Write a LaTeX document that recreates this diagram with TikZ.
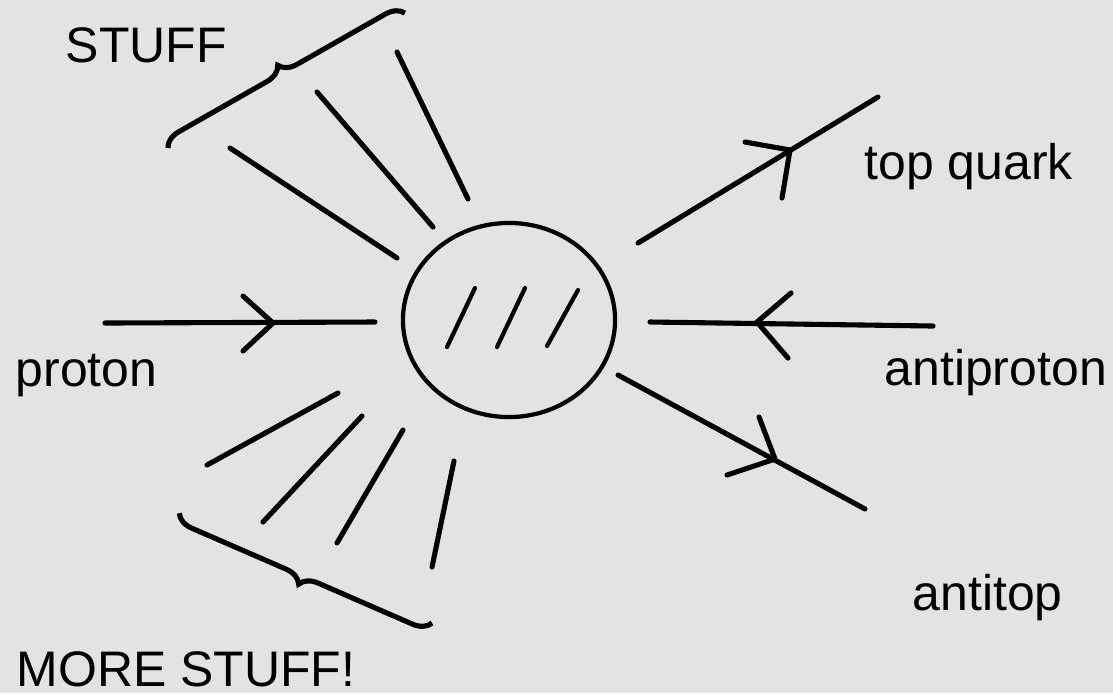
\documentclass[tikz,border=0pt]{standalone}
\usepackage{fontspec}
\setmainfont{Liberation Sans}
\usetikzlibrary{shapes.geometric}
\usetikzlibrary{decorations.pathreplacing}
\definecolor{slidegray}{RGB}{227,227,229}

\tikzset{
  lbl/.style={anchor=base west,inner sep=0pt,font=\fontsize{14.2}{17}\selectfont},
  ray/.style={line width=1.45pt,line cap=round},
  bracket/.style={line width=1.45pt,decorate,decoration={brace,amplitude=5pt}}
}

\begin{document}
\begin{tikzpicture}[x=0.01cm,y=-0.01cm]
% background of the slide
\fill[slidegray] (0,0) rectangle (1113,693);
\useasboundingbox (0,0) rectangle (1113,693);

% the collision blob with its hatching
\node[ellipse,draw,line width=1.2pt,inner sep=0pt,minimum width=2.12cm,minimum height=1.94cm] (blob) at (509,320) {};
\foreach \xa/\ya/\xb/\yb in {475/288/447/347, 525/288/497/347, 578/290/547/346}{
  \draw[line width=1.2pt,line cap=round] (\xa,\ya)--(\xb,\yb);
}

% incoming and outgoing particles
\draw[ray] (105,323)--(375,322);
\draw[ray] (933,326)--(650,322);
\draw[ray] (638,243)--(878,97);
\draw[ray] (618,375)--(865,509);

% chevrons on the particle lines
\foreach \xa/\ya/\xt/\yt/\xb/\yb in {243/296/273/323/243/351, 791/293/757/322/788/358,
                                    745/142/790/150/782/198, 759/417/775/459/727/475}{
  \draw[ray] (\xa,\ya)--(\xt,\yt)--(\xb,\yb);
}

% stuff flying off, upper left
\foreach \xa/\ya/\xb/\yb in {230/148/397/258, 317/92/433/227, 397/52/468/199}{
  \draw[ray] (\xa,\ya)--(\xb,\yb);
}
\draw[bracket] (168,148)--(405,13);

% more stuff flying off, lower left
\foreach \xa/\ya/\xb/\yb in {207/465/338/393, 263/522/362/416, 337/543/403/430, 432/567/454/461}{
  \draw[ray] (\xa,\ya)--(\xb,\yb);
}
\draw[bracket] (432,623)--(179,513);

% labels
\node[lbl] (stuff) at (65,62) {STUFF};
\node[lbl] (top) at (864,179) {top quark};
\node[lbl] (proton) at (15,386) {proton};
\node[lbl] (antiproton) at (884,385) {antiproton};
\node[lbl] (antitop) at (912,610) {antitop};
\node[lbl] (more) at (16,686) {MORE STUFF!};

\end{tikzpicture}
\end{document}
